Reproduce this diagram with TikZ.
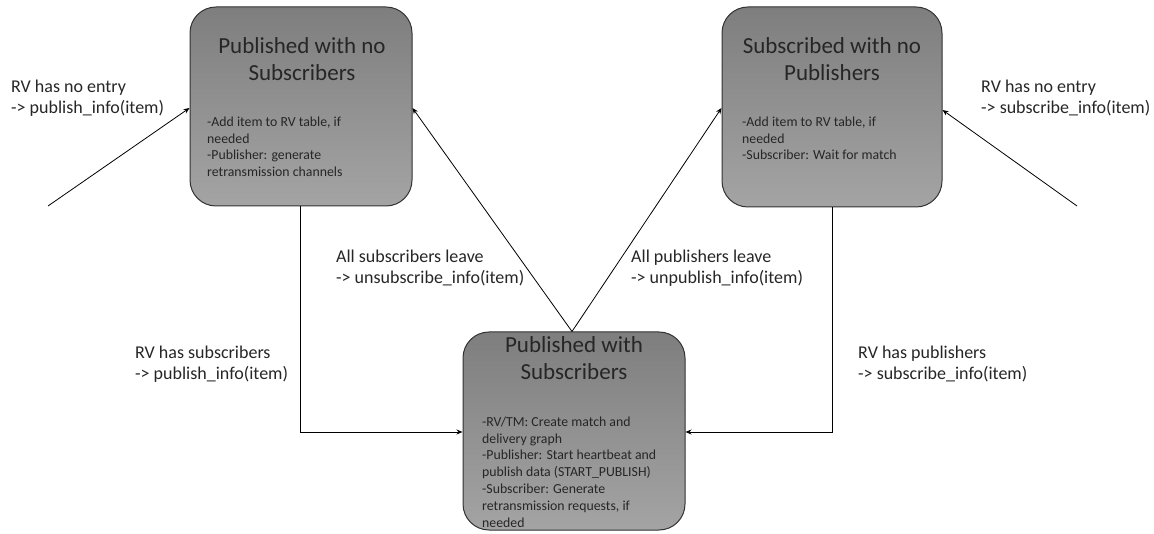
\documentclass[tikz,border=0pt]{standalone}
\usepackage{fontspec}
\setmainfont{Carlito}
\usetikzlibrary{arrows.meta}
\definecolor{boxtop}{RGB}{126,126,126}
\definecolor{boxbot}{RGB}{164,164,164}
\definecolor{boxline}{RGB}{50,50,50}
\tikzset{
  statebox/.style={draw=boxline, line width=1pt, rounded corners=26pt, top color=boxtop, bottom color=boxbot, inner sep=0pt},
  titletext/.style={inner sep=0pt, align=center, font=\fontsize{23}{27}\selectfont, text=black!85},
  bodytext/.style={inner sep=0pt, align=left, font=\fontsize{13.8}{16.8}\selectfont, text=black!85},
  lbl/.style={inner sep=0pt, align=left, font=\fontsize{18}{21}\selectfont, text=black!85},
  conn/.style={draw=black, line width=0.8pt, -{Stealth[length=6pt,width=5pt]}},
}
\begin{document}
\begin{tikzpicture}[x=1pt,y=-1pt]
\useasboundingbox (0,0) rectangle (1154,534);
% boxes
\node[statebox, minimum width=222pt, minimum height=199pt] (b1) at (301,106.5) {};
\node[statebox, minimum width=220pt, minimum height=200pt] (b2) at (832,107) {};
\node[statebox, minimum width=222pt, minimum height=198pt] (b3) at (574,431) {};
% box texts
\node[titletext, anchor=north] (t1) at (302,37) {Published with no\\Subscribers};
\node[bodytext, anchor=north west] (d1) at (207,116.5) {-Add item to RV table, if\\needed\\-Publisher: generate\\retransmission channels};
\node[titletext, anchor=north] (t2) at (832,37) {Subscribed with no\\Publishers};
\node[bodytext, anchor=north west] (d2) at (742,116.5) {-Add item to RV table, if\\needed\\-Subscriber: Wait for match};
\node[titletext, anchor=north] (t3) at (574,336) {Published with\\Subscribers};
\node[bodytext, anchor=north west] (d3) at (482,416.5) {-RV/TM: Create match and\\delivery graph\\-Publisher: Start heartbeat and\\publish data (START\_PUBLISH)\\-Subscriber: Generate\\retransmission requests, if\\needed};
% free ends
\coordinate (s1) at (48,206);
\coordinate (s2) at (1077,206);
% connectors
\draw[conn] (s1) -- (b1.west |- 0,108);
\draw[conn] (s2) -- (b2.east |- 0,110);
\draw[conn] (b3.north -| 572,0) -- (b1.east |- 0,108);
\draw[conn] (b3.north -| 572,0) -- (b2.west |- 0,108);
\draw[conn] (b1.south -| 300,0) |- (b3.west |- 0,432);
\draw[conn] (b2.south -| 832,0) |- (b3.east |- 0,432);
% labels
\node[lbl, anchor=north west] (l1) at (11,80) {RV has no entry\\-> publish\_info(item)};
\node[lbl, anchor=north west] (l2) at (981,80) {RV has no entry\\-> subscribe\_info(item)};
\node[lbl, anchor=north west] (l3) at (336,250) {All subscribers leave\\-> unsubscribe\_info(item)};
\node[lbl, anchor=north west] (l4) at (631,250) {All publishers leave\\-> unpublish\_info(item)};
\node[lbl, anchor=north west] (l5) at (135,345.5) {RV has subscribers\\-> publish\_info(item)};
\node[lbl, anchor=north west] (l6) at (858,345.5) {RV has publishers\\-> subscribe\_info(item)};
\end{tikzpicture}
\end{document}
